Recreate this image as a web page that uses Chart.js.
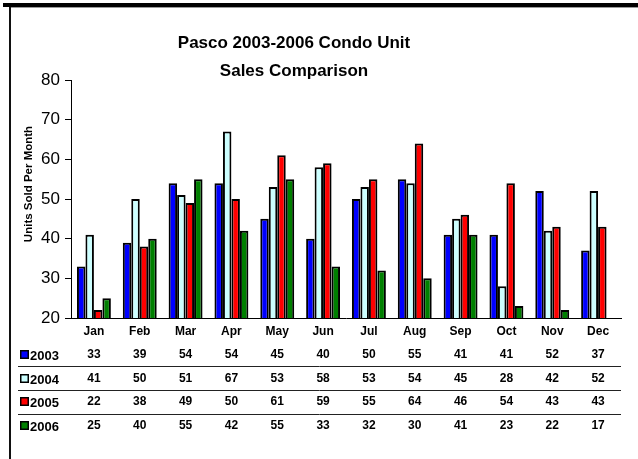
<!DOCTYPE html>
<html>
<head>
<meta charset="utf-8">
<script src="https://cdn.jsdelivr.net/npm/chart.js@4/dist/chart.umd.min.js"></script>
<style>
  html, body { margin: 0; padding: 0; background: #fff; }
  #wrap { position: relative; width: 638px; height: 459px; }
</style>
</head>
<body>
<div id="wrap"><canvas id="c" width="638" height="459"></canvas></div>
<script>
const months = ['Jan','Feb','Mar','Apr','May','Jun','Jul','Aug','Sep','Oct','Nov','Dec'];
const seriesNames = ['2003','2004','2005','2006'];
const sales2003 = [33,39,54,54,45,40,50,55,41,41,52,37];
const sales2004 = [41,50,51,67,53,58,53,54,45,28,42,52];
const sales2005 = [22,38,49,50,61,59,55,64,46,54,43,43];
const sales2006 = [25,40,55,42,55,33,32,30,41,23,22,17];
const yTicks = [20,30,40,50,60,70,80];
const titleLines = ['Pasco 2003-2006 Condo Unit', 'Sales Comparison'];
const yTitle = 'Units Sold Per Month';

const colors = ['#0000FF', '#CCFFFF', '#FF0000', '#008000'];
const seriesData = [sales2003, sales2004, sales2005, sales2006];
const FONT = '"Liberation Sans", Arial, sans-serif';

const decorPlugin = {
  id: 'decor',
  beforeDraw(chart) {
    const ctx = chart.ctx;
    ctx.save();
    ctx.fillStyle = '#fff';
    ctx.fillRect(0, 0, chart.width, chart.height);
    ctx.fillStyle = '#000';
    ctx.fillRect(3, 3, chart.width - 3, 4);
    ctx.fillStyle = '#9a9a9a';
    ctx.fillRect(9, 7, chart.width - 9, 1);
    ctx.fillStyle = '#111';
    ctx.fillRect(9, 7, 2, chart.height - 7);
    ctx.restore();
  },
  afterDraw(chart) {
    const ctx = chart.ctx;
    const xs = chart.scales.x;
    ctx.save();
    ctx.fillStyle = '#000';
    ctx.font = 'bold 17px ' + FONT;
    ctx.textAlign = 'center';
    ctx.textBaseline = 'middle';
    ctx.fillText(titleLines[0], 294, 43);
    ctx.fillText(titleLines[1], 294, 71);
    ctx.save();
    ctx.translate(29, 184);
    ctx.rotate(-Math.PI / 2);
    ctx.font = 'bold 11.5px ' + FONT;
    ctx.fillText(yTitle, 0, 0);
    ctx.restore();
    const rowY = [355, 379, 402, 426];
    const lineY = [366.5, 390.5, 414.5];
    ctx.strokeStyle = '#222';
    ctx.lineWidth = 1;
    lineY.forEach(y => {
      ctx.beginPath();
      ctx.moveTo(18, y);
      ctx.lineTo(xs.right, y);
      ctx.stroke();
    });
    seriesNames.forEach((name, i) => {
      const y = rowY[i];
      ctx.fillStyle = '#000';
      ctx.fillRect(20, y - 5, 9, 9);
      ctx.fillStyle = colors[i];
      ctx.fillRect(21.5, y - 3.5, 6, 6);
      ctx.fillStyle = '#000';
      ctx.font = 'bold 13px ' + FONT;
      ctx.textAlign = 'left';
      ctx.textBaseline = 'middle';
      ctx.fillText(name, 30, y + 1);
      ctx.font = 'bold 12px ' + FONT;
      ctx.textAlign = 'center';
      seriesData[i].forEach((v, j) => {
        ctx.fillText(String(v), xs.getPixelForValue(j), y);
      });
    });
    ctx.restore();
  }
};

new Chart(document.getElementById('c'), {
  type: 'bar',
  data: {
    labels: months,
    datasets: seriesNames.map((n, i) => ({
      label: n,
      data: seriesData[i],
      backgroundColor: colors[i],
      borderColor: '#000',
      borderWidth: 2,
      categoryPercentage: 0.74,
      barPercentage: 1.0
    }))
  },
  options: {
    responsive: false,
    animation: false,
    devicePixelRatio: 1,
    layout: { padding: { left: 10, top: 80, right: 17, bottom: 0 } },
    plugins: {
      legend: { display: false },
      title: { display: false },
      tooltip: { enabled: false }
    },
    scales: {
      x: {
        grid: { display: false },
        border: { display: true, color: '#000', width: 1 },
        ticks: {
          color: '#000',
          font: { family: FONT, size: 12, weight: 'bold' },
          padding: -2,
          maxRotation: 0
        },
        afterFit(scale) { scale.height = 141; }
      },
      y: {
        min: 20,
        max: 80,
        afterBuildTicks(scale) { scale.ticks = yTicks.map(v => ({ value: v })); },
        grid: { drawOnChartArea: false, drawTicks: true, tickLength: 6, color: '#000' },
        border: { display: true, color: '#000', width: 1 },
        ticks: {
          color: '#000',
          font: { family: FONT, size: 17 },
          padding: 5
        },
        afterFit(scale) { scale.width = 61; }
      }
    }
  },
  plugins: [decorPlugin]
});
</script>
</body>
</html>
